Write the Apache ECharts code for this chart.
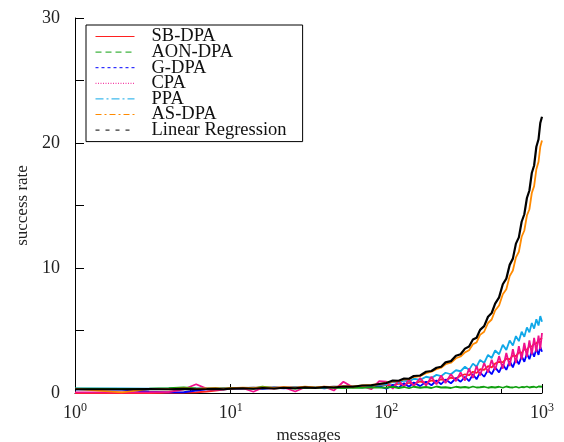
<!DOCTYPE html>
<html>
<head>
<meta charset="utf-8">
<script src="https://cdn.jsdelivr.net/npm/echarts@6/dist/echarts.min.js"></script>
<style>
  html, body { margin: 0; padding: 0; background: #fff; }
  #chart { width: 564px; height: 442px; }
</style>
</head>
<body>
<div id="chart"></div>
<script>
// message counts (x)
const xs = [1, 2, 3, 4, 5, 6, 7, 8, 9, 10,
  12, 14, 16, 19, 22, 26, 30, 35, 40, 46, 53, 61, 70, 80, 90,
  100, 110, 120, 130, 140, 150, 165, 180, 195, 210, 225, 240, 260, 280, 300,
  320, 340, 360, 380, 400, 425, 450, 475, 500,
  530, 560, 590, 620, 650, 680, 710, 740, 770, 800, 830, 860, 890, 920, 950, 975, 1000];

const sbDpa = [0, 0, 0, 0.02, 0.03, 0.05, 0.12, 0.2, 0.27, 0.35,
  0.38, 0.42, 0.4, 0.44, 0.42, 0.46, 0.44, 0.48, 0.46, 0.5, 0.48, 0.52, 0.55, 0.6, 0.62,
  0.65, 0.6, 0.75, 0.66, 0.82, 0.74, 0.92, 0.82, 1.0, 0.92, 1.1, 1.02, 1.22, 1.15, 1.38,
  1.5, 1.42, 1.7, 1.6, 1.9, 1.85, 2.15, 2.05, 2.35,
  2.5, 2.45, 2.75, 2.7, 3.0, 2.95, 3.25, 3.2, 3.5, 3.45, 3.75, 3.7, 3.95, 3.95, 4.2, 4.15, 4.4];

const aonDpa = [0.34, 0.33, 0.34, 0.38, 0.45, 0.36, 0.34, 0.36, 0.35, 0.38,
  0.4, 0.36, 0.5, 0.38, 0.42, 0.36, 0.44, 0.4, 0.46, 0.42, 0.4, 0.44, 0.42, 0.46, 0.44,
  0.42, 0.5, 0.4, 0.48, 0.38, 0.5, 0.42, 0.48, 0.4, 0.52, 0.44, 0.46, 0.4, 0.5, 0.44,
  0.48, 0.42, 0.52, 0.44, 0.46, 0.5, 0.42, 0.48, 0.44,
  0.5, 0.42, 0.52, 0.46, 0.44, 0.5, 0.42, 0.48, 0.46, 0.52, 0.44, 0.48, 0.5, 0.44, 0.52, 0.46, 0.5];

const gDpa = [0.3, 0.28, 0.1, 0.05, 0.06, 0.2, 0.3, 0.32, 0.3, 0.34,
  0.36, 0.4, 0.34, 0.42, 0.38, 0.44, 0.4, 0.46, 0.38, 0.48, 0.42, 0.5, 0.46, 0.52, 0.55,
  0.35, 0.65, 0.42, 0.78, 0.5, 0.84, 0.55, 0.9, 0.62, 1.0, 0.7, 1.08, 0.78, 1.18, 0.9,
  1.3, 0.95, 1.5, 1.1, 1.65, 1.3, 1.85, 1.5, 2.05,
  1.65, 2.3, 1.85, 2.55, 2.05, 2.75, 2.3, 2.95, 2.5, 3.15, 2.7, 3.35, 2.9, 3.55, 3.05, 3.7, 3.3];

const cpa = [0.05, 0.05, 0.06, 0.08, 0.3, 0.7, 0.35, 0.3, 0.34, 0.36,
  0.38, 0.1, 0.42, 0.36, 0.44, 0.12, 0.46, 0.4, 0.5, 0.2, 0.9, 0.45, 0.55, 0.3, 0.95,
  0.9, 0.35, 1.0, 0.5, 1.1, 0.55, 1.2, 0.6, 1.3, 0.7, 1.4, 0.8, 1.5, 0.95, 1.65,
  1.0, 1.95, 1.2, 2.15, 1.4, 2.4, 1.65, 2.65, 1.85,
  2.95, 1.95, 3.2, 2.15, 3.5, 2.4, 3.75, 2.7, 4.0, 2.9, 4.2, 3.1, 4.4, 3.3, 4.6, 3.5, 4.8];

const ppa = [0.36, 0.36, 0.35, 0.36, 0.38, 0.36, 0.38, 0.36, 0.4, 0.38,
  0.4, 0.42, 0.38, 0.44, 0.4, 0.46, 0.42, 0.48, 0.44, 0.5, 0.48, 0.54, 0.56, 0.62, 0.66,
  0.68, 0.88, 0.8, 1.0, 0.92, 1.14, 1.05, 1.3, 1.2, 1.45, 1.35, 1.62, 1.5, 1.82, 1.74,
  2.1, 1.85, 2.35, 2.1, 2.65, 2.4, 3.05, 2.8, 3.4,
  3.1, 3.85, 3.45, 4.2, 3.8, 4.55, 4.15, 4.9, 4.5, 5.25, 4.85, 5.6, 5.15, 5.9, 5.4, 6.15, 5.7];

const asDpa = [0.33, 0.05, 0.33, 0.3, 0.36, 0.32, 0.36, 0.38, 0.34, 0.38,
  0.42, 0.38, 0.44, 0.4, 0.46, 0.42, 0.5, 0.44, 0.5, 0.46, 0.54, 0.52, 0.6, 0.64, 0.7,
  0.82, 0.92, 0.96, 1.08, 1.12, 1.28, 1.36, 1.58, 1.7, 1.9, 2.02, 2.3, 2.42, 2.78, 2.92,
  3.25, 3.42, 3.9, 4.05, 4.65, 4.9, 5.6, 5.88, 6.6,
  7.0, 7.9, 8.3, 9.35, 9.8, 10.85, 11.3, 12.5, 13.0, 14.2, 14.7, 16.0, 16.55, 17.9, 18.5, 19.7, 20.2];

const linReg = [0.3, 0.3, 0.32, 0.3, 0.33, 0.3, 0.32, 0.34, 0.3, 0.35,
  0.38, 0.34, 0.4, 0.36, 0.42, 0.38, 0.45, 0.4, 0.48, 0.44, 0.52, 0.5, 0.6, 0.62, 0.72,
  0.8, 1.0, 0.98, 1.16, 1.14, 1.36, 1.4, 1.7, 1.76, 2.02, 2.1, 2.45, 2.55, 2.98, 3.1,
  3.55, 3.72, 4.28, 4.42, 5.05, 5.35, 6.1, 6.4, 7.15,
  7.65, 8.7, 9.15, 10.25, 10.75, 11.95, 12.45, 13.7, 14.3, 15.6, 16.2, 17.6, 18.2, 19.7, 20.3, 21.6, 22.1];

const seriesNames = ["SB-DPA", "AON-DPA", "G-DPA", "CPA", "PPA", "AS-DPA", "Linear Regression"];
const yTicks = [0, 10, 20, 30];

const FONT = "Liberation Serif";

// colour + dash used in the key
const styles = [
  { color: "#ff2020", dash: "solid" },
  { color: "#10a010", dash: [6, 4] },
  { color: "#0000ff", dash: [3, 3] },
  { color: "#f0108c", dash: [1, 1.5] },
  { color: "#10a8e8", dash: [8, 3, 2, 3] },
  { color: "#ff8a00", dash: [6, 3, 2, 3] },
  { color: "#000000", dash: [4, 6] }
];
const zOrder = [2, 6, 3, 5, 4, 7, 8];

function pairs(ys) {
  return xs.map((x, i) => [x, ys[i]]);
}

function line(i, ys) {
  const s = styles[i];
  return {
    name: seriesNames[i],
    type: "line",
    data: pairs(ys),
    symbol: "none",
    z: zOrder[i],
    itemStyle: { color: s.color },
    lineStyle: { color: s.color, width: i === 6 ? 2.2 : 1.8, type: "solid" }
  };
}

const chart = echarts.init(document.getElementById("chart"));
chart.setOption({
  animation: false,
  backgroundColor: "#fff",
  grid: { left: 75, right: 22, top: 18, bottom: 49, outerBoundsMode: "none" },
  legend: {
    orient: "vertical",
    left: 86,
    top: 25,
    itemWidth: 39,
    itemHeight: 10,
    itemGap: -3.4,
    padding: [2, 16, 2, 9],
    borderColor: "#000",
    borderWidth: 1,
    backgroundColor: "#fff",
    itemStyle: { opacity: 0 },
    data: seriesNames.map((n, i) => ({
      name: n,
      lineStyle: { color: styles[i].color, width: 1, type: styles[i].dash }
    })),
    textStyle: { fontFamily: FONT, fontSize: 18.5, color: "#111", padding: [0, 0, 0, 12] }
  },
  xAxis: {
    type: "log",
    logBase: 10,
    min: 1,
    max: 1000,
    name: "messages",
    nameLocation: "middle",
    nameGap: 27,
    nameTextStyle: { fontFamily: FONT, fontSize: 17, color: "#222" },
    axisLine: { lineStyle: { color: "#000", width: 1 } },
    axisTick: { inside: true, length: 9, lineStyle: { color: "#000" } },
    minorTick: { show: true, splitNumber: 2, length: 4, lineStyle: { color: "#000" } },
    splitLine: { show: false },
    axisLabel: {
      margin: 9,
      color: "#222",
      formatter: function (v) {
        return "{b|10}{s|" + Math.round(Math.log10(v)) + "}";
      },
      rich: {
        b: { fontFamily: FONT, fontSize: 18, color: "#222" },
        s: { fontFamily: FONT, fontSize: 12, color: "#222", verticalAlign: "top", padding: [0, 0, 10, 0] }
      }
    }
  },
  yAxis: {
    type: "value",
    min: 0,
    max: 30,
    interval: 5,
    name: "success rate",
    nameLocation: "middle",
    nameGap: 44,
    nameTextStyle: { fontFamily: FONT, fontSize: 17, color: "#222" },
    axisLine: { show: true, lineStyle: { color: "#000", width: 1 } },
    axisTick: { show: true, inside: true, length: 9, lineStyle: { color: "#000" } },
    splitLine: { show: false },
    axisLabel: {
      margin: 15,
      fontFamily: FONT,
      fontSize: 18,
      color: "#222",
      formatter: function (v) {
        return yTicks.indexOf(v) >= 0 ? String(v) : "";
      }
    }
  },
  series: [
    line(0, sbDpa),
    line(1, aonDpa),
    line(2, gDpa),
    line(3, cpa),
    line(4, ppa),
    line(5, asDpa),
    line(6, linReg)
  ]
});
</script>
</body>
</html>
